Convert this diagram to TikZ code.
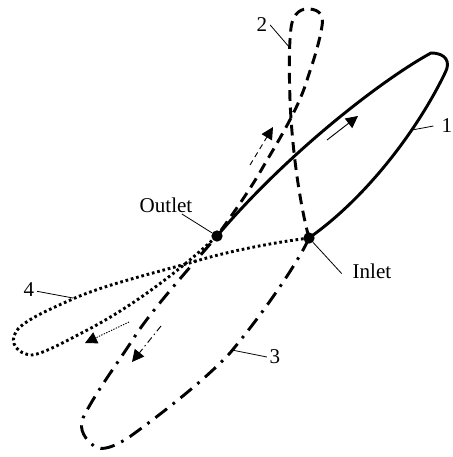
\documentclass[tikz,border=0pt]{standalone}
\usepackage{fontspec}
\setmainfont{Liberation Serif}
\usetikzlibrary{arrows.meta}
\tikzset{
  curveline/.style={line width=2.2pt,line join=round},
  dashline/.style={curveline,dash pattern=on 8pt off 5pt},
  dashdotline/.style={curveline,dash pattern=on 11pt off 5.5pt on 2pt off 5.5pt},
  dotline/.style={curveline,dash pattern=on 2pt off 2.1pt},
  port/.style={circle,fill=black,inner sep=0pt,minimum size=8.5pt},
  lbl/.style={inner sep=0pt,font=\fontsize{15.8}{18}\selectfont},
  leader/.style={line width=0.6pt},
  flow/.style={line width=0.7pt,-{Triangle[length=9pt,width=9pt]}}
}
\begin{document}
\begin{tikzpicture}[x=0.75pt,y=-0.75pt]
\useasboundingbox (0,0) rectangle (453,457);
\coordinate (in) at (309,238);
\coordinate (out) at (217,236);
% curve 1
\draw[curveline] (in) .. controls (370,195) and (420,125) .. (445,73)
  .. controls (451,62) and (446,53) .. (431,53)
  .. controls (385,78) and (290,150) .. (out);
% curve 2
\draw[dashline] (in) .. controls (300,205) and (292,150) .. (290,100)
  .. controls (289,70) and (289,45) .. (291,28)
  .. controls (293,12) and (302,8) .. (310,9)
  .. controls (320,10) and (324,16) .. (322,26)
  .. controls (319,45) and (312,65) .. (308,77)
  .. controls (300,105) and (282,135) .. (263,167)
  .. controls (250,190) and (232,215) .. (out);
% curve 3
\draw[dashdotline] (in) .. controls (302,255) and (270,305) .. (230,353)
  .. controls (205,380) and (160,415) .. (128,438)
  .. controls (115,446) and (102,452) .. (94,446)
  .. controls (86,440) and (78,430) .. (83,418)
  .. controls (95,393) and (120,360) .. (137,333)
  .. controls (160,300) and (195,262) .. (out);
% curve 4
\draw[dotline] (in) .. controls (270,243) and (225,252) .. (193,262)
  .. controls (150,274) and (105,285) .. (75,298)
  .. controls (50,309) and (30,318) .. (20,327)
  .. controls (8,338) and (13,352) .. (30,355)
  .. controls (40,356) and (70,339) .. (93,327)
  .. controls (130,307) and (175,275) .. (out);
\node[port] (inlet) at (in) {};
\node[port] (outlet) at (out) {};
% flow arrows
\coordinate (a1s) at (327,140); \coordinate (a1e) at (358,116);
\coordinate (a2s) at (250,165); \coordinate (a2e) at (273,127);
\coordinate (a3s) at (161,326); \coordinate (a3e) at (132,362);
\coordinate (a4s) at (129,322); \coordinate (a4e) at (85,343);
\draw[flow] (a1s) -- (a1e);
\draw[flow,dash pattern=on 4pt off 3pt] (a2s) -- (a2e);
\draw[flow,dash pattern=on 5pt off 2.5pt on 1pt off 2.5pt] (a3s) -- (a3e);
\draw[flow,dash pattern=on 1pt off 1pt] (a4s) -- (a4e);
% labels
\node[lbl] (l1) at (447,126) {1};
\node[lbl] (l2) at (262,25) {2};
\node[lbl] (l3) at (275,357) {3};
\node[lbl] (l4) at (29,290) {4};
\node[lbl] (lo) at (166,205) {Outlet};
\node[lbl] (li) at (372,271) {Inlet};
\coordinate (e1) at (412,130);
\coordinate (e2) at (290,48);
\coordinate (e3) at (232,350);
\coordinate (e4) at (73,298);
\draw[leader] (l1.west) ++(-6pt,0) -- (e1);
\draw[leader] (l2.east) ++(2pt,0) -- (e2);
\draw[leader] (l3.west) ++(-2pt,0) -- (e3);
\draw[leader] (l4.east) ++(2pt,-1pt) -- (e4);
\draw[leader] (lo.south east) ++(-8pt,-1pt) -- (outlet);
\draw[leader] (li.west) ++(-8pt,-2pt) -- (inlet);
\end{tikzpicture}
\end{document}
